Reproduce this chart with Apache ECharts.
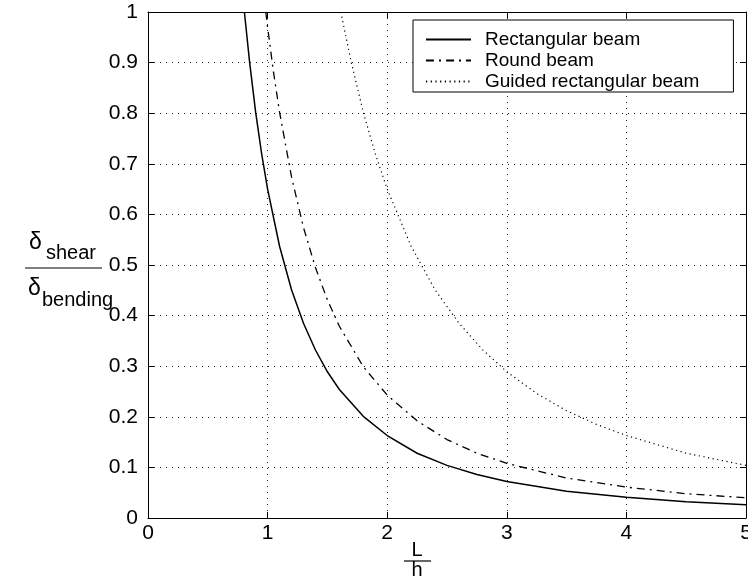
<!DOCTYPE html>
<html>
<head>
<meta charset="utf-8">
<script src="https://cdn.jsdelivr.net/npm/echarts@6/dist/echarts.min.js"></script>
<style>html,body{margin:0;padding:0;background:#fff}#c{width:748px;height:578px}</style>
</head>
<body>
<div id="c"></div>
<script>
const seriesNames = ['Rectangular beam', 'Round beam', 'Guided rectangular beam'];
const xTickLabels = ['0', '1', '2', '3', '4', '5'];
const yTickLabels = ['0', '0.1', '0.2', '0.3', '0.4', '0.5', '0.6', '0.7', '0.8', '0.9', '1'];

// [L/h, delta_shear / delta_bending]
const rectangularBeam = [
  [0.806, 1.0], [0.85, 0.900], [0.9, 0.802], [0.95, 0.720], [1.0, 0.650],
  [1.1, 0.537], [1.2, 0.451], [1.3, 0.385], [1.4, 0.332], [1.5, 0.289],
  [1.6, 0.254], [1.8, 0.201], [2.0, 0.163], [2.25, 0.128], [2.5, 0.104],
  [2.75, 0.086], [3.0, 0.072], [3.5, 0.053], [4.0, 0.041], [4.5, 0.032], [5.0, 0.026]
];
const roundBeam = [
  [0.985, 1.0], [1.0, 0.970], [1.05, 0.880], [1.1, 0.802], [1.2, 0.674],
  [1.3, 0.574], [1.4, 0.495], [1.5, 0.431], [1.6, 0.379], [1.8, 0.299],
  [2.0, 0.243], [2.25, 0.192], [2.5, 0.155], [2.75, 0.128], [3.0, 0.108],
  [3.5, 0.079], [4.0, 0.061], [4.5, 0.048], [5.0, 0.040]
];
const guidedRectangularBeam = [
  [1.612, 1.0], [1.7, 0.900], [1.8, 0.802], [1.9, 0.720], [2.0, 0.650],
  [2.2, 0.537], [2.4, 0.451], [2.6, 0.385], [2.8, 0.332], [3.0, 0.289],
  [3.25, 0.246], [3.5, 0.212], [3.75, 0.185], [4.0, 0.163], [4.5, 0.128], [5.0, 0.104]
];

const FONT = '"Liberation Sans", Arial, Helvetica, sans-serif';
const chart = echarts.init(document.getElementById('c'), null, {renderer: 'canvas'});

const axisLine = {show: true, onZero: false, lineStyle: {color: '#000', width: 1}};
const tick = {show: true, inside: true, length: 6, lineStyle: {color: '#000', width: 1}};
const grid = {show: true, lineStyle: {color: '#222', width: 1, type: [1, 5]}};

chart.setOption({
  animation: false,
  backgroundColor: '#fff',
  grid: {left: 148, right: 2, top: 12, bottom: 60, containLabel: false, outerBoundsMode: 'none'},
  xAxis: [
    {type: 'value', min: 0, max: 5, interval: 1, position: 'bottom',
     axisLine: axisLine, axisTick: tick, splitLine: grid,
     axisLabel: {color: '#000', fontSize: 21, fontFamily: FONT, margin: 5, hideOverlap: false,
       formatter: v => xTickLabels[Math.round(v)]}},
    {type: 'value', min: 0, max: 5, interval: 1, position: 'top',
     axisLine: axisLine, axisTick: tick, splitLine: {show: false}, axisLabel: {show: false}}
  ],
  yAxis: [
    {type: 'value', min: 0, max: 1, interval: 0.1, position: 'left',
     axisLine: axisLine, axisTick: tick, splitLine: grid,
     axisLabel: {color: '#000', fontSize: 21, fontFamily: FONT, margin: 10,
       formatter: v => yTickLabels[Math.round(v * 10)]}},
    {type: 'value', min: 0, max: 1, interval: 0.1, position: 'right',
     axisLine: axisLine, axisTick: tick, splitLine: {show: false}, axisLabel: {show: false}}
  ],
  legend: {
    orient: 'vertical', left: 413, top: 20,
    padding: [10, 34, 1, 12], itemGap: 2, itemWidth: 45, itemHeight: 19,
    backgroundColor: '#fff', borderColor: '#000', borderWidth: 1, borderRadius: 0,
    itemStyle: {opacity: 0},
    textStyle: {color: '#000', fontSize: 19, fontFamily: FONT, padding: [0, 0, 0, 9]},
    data: seriesNames
  },
  series: [
    {name: seriesNames[0], type: 'line', data: rectangularBeam, symbol: 'none', showSymbol: false,
     clip: true, lineStyle: {color: '#000', width: 1.5, type: 'solid'}, itemStyle: {color: '#000'}},
    {name: seriesNames[1], type: 'line', data: roundBeam, symbol: 'none', showSymbol: false,
     clip: true, lineStyle: {color: '#000', width: 1.3, type: [8, 5, 2, 5]}, itemStyle: {color: '#000'}},
    {name: seriesNames[2], type: 'line', data: guidedRectangularBeam, symbol: 'none', showSymbol: false,
     clip: true, lineStyle: {color: '#000', width: 1.2, type: [1.2, 3.5]}, itemStyle: {color: '#000'}}
  ],
  graphic: [
    {type: 'text', x: 29, y: 243, style: {text: 'δ', font: '23px ' + FONT, fill: '#000', textVerticalAlign: 'middle'}},
    {type: 'text', x: 46, y: 253, style: {text: 'shear', font: '20px ' + FONT, fill: '#000', textVerticalAlign: 'middle'}},
    {type: 'line', shape: {x1: 25, y1: 268, x2: 102, y2: 268}, style: {stroke: '#000', lineWidth: 1.2}},
    {type: 'text', x: 28, y: 289, style: {text: 'δ', font: '23px ' + FONT, fill: '#000', textVerticalAlign: 'middle'}},
    {type: 'text', x: 42, y: 300, style: {text: 'bending', font: '20px ' + FONT, fill: '#000', textVerticalAlign: 'middle'}},
    {type: 'text', x: 417, y: 550, style: {text: 'L', font: '20px ' + FONT, fill: '#000', textAlign: 'center', textVerticalAlign: 'middle'}},
    {type: 'line', shape: {x1: 404, y1: 561, x2: 431, y2: 561}, style: {stroke: '#000', lineWidth: 1.2}},
    {type: 'text', x: 417, y: 570, style: {text: 'h', font: '20px ' + FONT, fill: '#000', textAlign: 'center', textVerticalAlign: 'middle'}}
  ]
});
</script>
</body>
</html>
